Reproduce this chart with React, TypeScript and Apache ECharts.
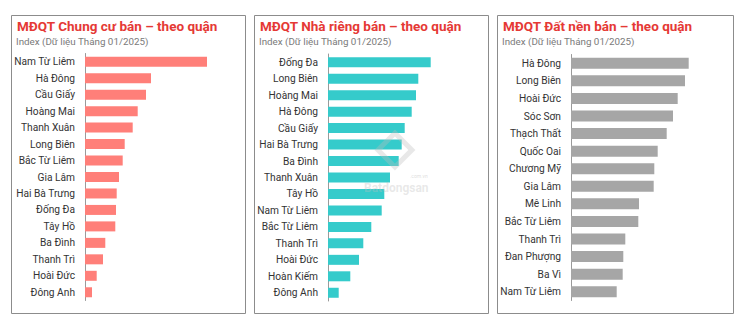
import React, { useEffect, useRef } from "react";
import * as echarts from "echarts";

const titles = [
  "MĐQT Chung cư bán – theo quận",
  "MĐQT Nhà riêng bán – theo quận",
  "MĐQT Đất nền bán – theo quận",
];
const subtitle = "Index (Dữ liệu Tháng 01/2025)";

const aptDistricts = [
  "Nam Từ Liêm", "Hà Đông", "Cầu Giấy", "Hoàng Mai", "Thanh Xuân", "Long Biên",
  "Bắc Từ Liêm", "Gia Lâm", "Hai Bà Trưng", "Đống Đa", "Tây Hồ", "Ba Đình",
  "Thanh Trì", "Hoài Đức", "Đông Anh",
];
const aptValues = [122, 66, 61, 52.7, 47.7, 39.7, 37.7, 34, 31.7, 31, 30.3, 20.3, 18, 11.7, 7];

const houseDistricts = [
  "Đống Đa", "Long Biên", "Hoàng Mai", "Hà Đông", "Cầu Giấy", "Hai Bà Trưng",
  "Ba Đình", "Thanh Xuân", "Tây Hồ", "Nam Từ Liêm", "Bắc Từ Liêm", "Thanh Trì",
  "Hoài Đức", "Hoàn Kiếm", "Đông Anh",
];
const houseValues = [102.7, 90.3, 88, 83.7, 76.7, 73.7, 70.7, 62, 56.3, 53.7, 43.3, 35.3, 31, 22.3, 10.7];

const landDistricts = [
  "Hà Đông", "Long Biên", "Hoài Đức", "Sóc Sơn", "Thạch Thất", "Quốc Oai",
  "Chương Mỹ", "Gia Lâm", "Mê Linh", "Bắc Từ Liêm", "Thanh Trì", "Đan Phượng",
  "Ba Vì", "Nam Từ Liêm",
];
const landValues = [117.7, 114, 106.7, 102, 95.7, 86.7, 83.3, 82.7, 68, 67.3, 54.3, 52.3, 51.7, 45.7];

const FONT = "Roboto, 'Noto Sans', sans-serif";

export default function App() {
  const ref = useRef<HTMLDivElement>(null);
  useEffect(() => {
    if (!ref.current) return;
    const chart = echarts.init(ref.current, null, { renderer: "svg" });
    const panels = [
      { left: 11, right: 245, axisX: 85, top: 53.5, height: 247, cats: aptDistricts, vals: aptValues, color: "#FF7F79", bw: 10 },
      { left: 254, right: 488, axisX: 328, top: 54, height: 247, cats: houseDistricts, vals: houseValues, color: "#35CBCB", bw: 10 },
      { left: 497, right: 733, axisX: 571, top: 54.5, height: 246, cats: landDistricts, vals: landValues, color: "#A6A6A6", bw: 11 },
    ];
    const option: any = {
      animation: false,
      backgroundColor: "#ffffff",
      textStyle: { fontFamily: FONT },
      title: panels.flatMap((p, i) => [
        {
          text: titles[i],
          left: p.left + 6,
          top: 19,
          padding: 0,
          textStyle: { fontFamily: FONT, fontSize: 13.5, fontWeight: "bold", color: "#E53935" },
        },
        {
          text: subtitle,
          left: p.left + 5,
          top: 36,
          padding: 0,
          textStyle: { fontFamily: FONT, fontSize: 9.8, fontWeight: "normal", color: "#7a7a7a" },
        },
      ]),
      grid: panels.map((p) => ({ left: p.axisX, top: p.top, width: 150, height: p.height })),
      xAxis: panels.map((_, i) => ({
        type: "value",
        gridIndex: i,
        min: 0,
        max: 150,
        show: false,
      })),
      yAxis: panels.map((p, i) => ({
        type: "category",
        gridIndex: i,
        data: p.cats,
        inverse: true,
        axisLine: { show: true, lineStyle: { color: "#9a9a9a", width: 1 } },
        axisTick: { show: false },
        splitLine: { show: false },
        axisLabel: { color: "#333333", fontSize: 10.2, fontFamily: FONT, margin: 10 },
      })),
      series: panels.map((p, i) => ({
        type: "bar",
        xAxisIndex: i,
        yAxisIndex: i,
        data: p.vals,
        barWidth: p.bw,
        itemStyle: { color: p.color },
        silent: true,
      })),
      graphic: [
        ...panels.map((p) => ({
          type: "rect",
          shape: { x: p.left + 0.5, y: 15.5, width: p.right - p.left, height: 298 },
          style: { fill: "none", stroke: "#8c8c8c", lineWidth: 1 },
          silent: true,
        })),
        {
          type: "rect",
          shape: { x: 383, y: 138, width: 24, height: 24 },
          rotation: Math.PI / 4,
          originX: 395,
          originY: 150,
          style: { fill: "none", stroke: "rgba(190,190,190,0.35)", lineWidth: 5 },
          silent: true,
          z: 100,
        },
        {
          type: "text",
          x: 364,
          y: 188,
          style: {
            text: "Batdongsan",
            fontFamily: FONT,
            fontSize: 12,
            fontWeight: "bold",
            fill: "rgba(190,190,190,0.35)",
            verticalAlign: "middle",
          },
          silent: true,
          z: 100,
        },
        {
          type: "text",
          x: 410,
          y: 176,
          style: {
            text: ".com.vn",
            fontFamily: FONT,
            fontSize: 5,
            fill: "rgba(190,190,190,0.5)",
            verticalAlign: "middle",
          },
          silent: true,
          z: 100,
        },
      ],
    };
    chart.setOption(option);
    return () => chart.dispose();
  }, []);
  return (
    <div
      ref={ref}
      style={{ position: "fixed", left: 0, top: 0, width: 742, height: 327 }}
    />
  );
}
